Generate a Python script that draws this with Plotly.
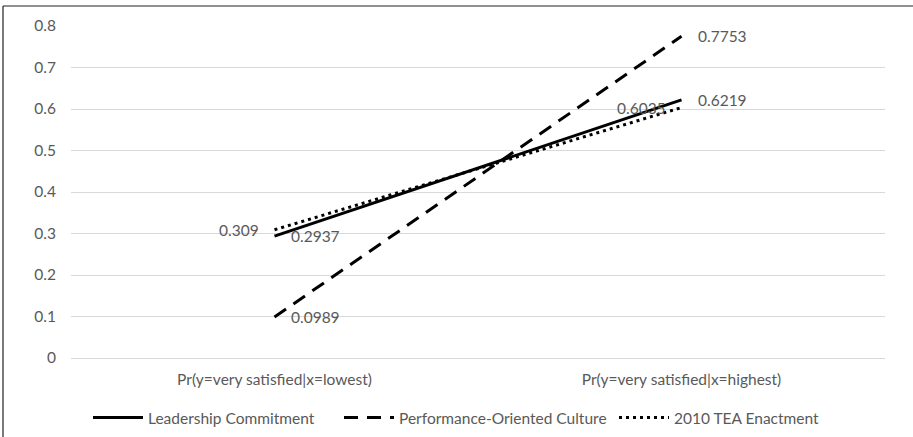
import plotly.graph_objects as go

categories = ["Pr(y=very satisfied|x=lowest)", "Pr(y=very satisfied|x=highest)"]
series_names = ["Leadership Commitment", "Performance-Oriented Culture", "2010 TEA Enactment"]
leadership = [0.2937, 0.6219]
performance = [0.0989, 0.7753]
tea = [0.309, 0.6035]
y_ticks = [0, 0.1, 0.2, 0.3, 0.4, 0.5, 0.6, 0.7, 0.8]

FONT = "Lato"
GREY = "#595959"
FS = 15.5

series = [leadership, performance, tea]
dashes = ["solid", "14px,9px", "3px,4px"]
label_side = [["right", "right"], ["right", "right"], ["left", "left"]]
legend_ids = ["legend", "legend2", "legend3"]
legend_px = [94, 345, 620]

W, H = 913, 437
L, R, T, B = 71, 28, 26, 79
pw, ph = W - L - R, H - T - B
def px(x):
    return (x - L) / pw
def py(y):
    return (H - B - y) / ph

fig = go.Figure()
for name, vals, dash, lid in zip(series_names, series, dashes, legend_ids):
    fig.add_trace(go.Scatter(
        x=categories, y=vals, mode="lines", name=name, legend=lid,
        line=dict(color="black", width=3, dash=dash),
    ))

annotations = []
for vals, sides in zip(series, label_side):
    for cat, v, side in zip(categories, vals, sides):
        annotations.append(dict(
            x=cat, y=v, xref="x", yref="y", text=str(v), showarrow=False,
            xanchor="left" if side == "right" else "right", yanchor="middle",
            xshift=14 if side == "right" else -14,
            font=dict(family=FONT, size=FS, color=GREY),
        ))

shapes = [
    dict(type="line", xref="paper", yref="paper", x0=px(3), x1=px(913), y0=py(6), y1=py(6),
         line=dict(color="#222222", width=1.2)),
    dict(type="line", xref="paper", yref="paper", x0=px(3), x1=px(3), y0=py(6), y1=py(437),
         line=dict(color="#222222", width=1.2)),
]

legend_layout = {}
for lid, lx in zip(legend_ids, legend_px):
    legend_layout[lid] = dict(
        orientation="h", x=px(lx - 6), xanchor="left", y=py(418), yanchor="middle",
        font=dict(family=FONT, size=FS, color=GREY), itemwidth=50,
        bgcolor="rgba(0,0,0,0)",
    )

fig.update_layout(
    width=W, height=H,
    margin=dict(l=L, r=R, t=T, b=B, autoexpand=False),
    paper_bgcolor="white", plot_bgcolor="white",
    font=dict(family=FONT, size=FS, color=GREY),
    showlegend=True,
    xaxis=dict(type="category", range=[-0.5, 1.5], showgrid=False, showline=False,
               zeroline=False, ticks="", tickfont=dict(family=FONT, size=FS, color=GREY),
               ticklabelstandoff=10),
    yaxis=dict(range=[0, 0.8], tickvals=y_ticks, showgrid=True, gridcolor="#d9d9d9",
               gridwidth=1, zeroline=True, zerolinecolor="#d9d9d9", zerolinewidth=1,
               showline=False, ticks="",
               tickfont=dict(family=FONT, size=FS, color=GREY), ticklabelstandoff=14),
    annotations=annotations,
    shapes=shapes,
    **legend_layout,
)

fig.write_html("out.html")
